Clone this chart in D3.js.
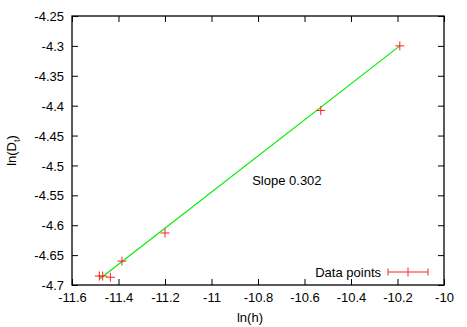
<!DOCTYPE html>
<html>
<head>
<meta charset="utf-8">
<script src="https://cdn.jsdelivr.net/npm/d3@7"></script>
<style>
  body { margin: 0; background: #fff; }
  text { font-family: "Liberation Sans", Arial, sans-serif; font-size: 13px; fill: #000; }
</style>
</head>
<body>
<div id="chart"></div>
<script>
// values
var lnH = [-10.19, -10.53, -11.20, -11.385, -11.482, -11.468, -11.435];
var lnD = [-4.300, -4.408, -4.613, -4.660, -4.685, -4.685, -4.687];
var xTicks = [-11.6, -11.4, -11.2, -11, -10.8, -10.6, -10.4, -10.2, -10];
var yTicks = [-4.25, -4.3, -4.35, -4.4, -4.45, -4.5, -4.55, -4.6, -4.65, -4.7];
var fitSlope = 0.302;
var fitIntercept = -1.2226;
var fitRange = [-11.48, -10.19];

var W = 467, H = 327;
var margin = { top: 16, right: 23, bottom: 42, left: 72 },
    width = W - margin.left - margin.right,
    height = H - margin.top - margin.bottom;

var svg = d3.select("#chart").append("svg")
    .attr("width", W).attr("height", H)
    .append("g")
    .attr("transform", "translate(" + margin.left + "," + margin.top + ")");

var x = d3.scaleLinear().domain([-11.6, -10]).range([0, width]);
var y = d3.scaleLinear().domain([-4.7, -4.25]).range([height, 0]);
var fmt = function (d) { return String(d); };
var tl = 6;

// axes: labels outside, ticks inward on all four sides
var gx = svg.append("g").attr("transform", "translate(0," + height + ")")
    .call(d3.axisBottom(x).tickValues(xTicks).tickFormat(fmt).tickSizeInner(-tl).tickSizeOuter(0).tickPadding(8));
var gy = svg.append("g")
    .call(d3.axisLeft(y).tickValues(yTicks).tickFormat(fmt).tickSizeInner(-tl).tickSizeOuter(0).tickPadding(8));
var gx2 = svg.append("g")
    .call(d3.axisTop(x).tickValues(xTicks).tickFormat("").tickSizeInner(-tl).tickSizeOuter(0));
var gy2 = svg.append("g").attr("transform", "translate(" + width + ",0)")
    .call(d3.axisRight(y).tickValues(yTicks).tickFormat("").tickSizeInner(-tl).tickSizeOuter(0));
[gx, gy, gx2, gy2].forEach(function (g) {
    g.select(".domain").remove();
    g.selectAll("line").attr("stroke", "#000");
    g.selectAll("text").style("font-size", "13px").attr("font-family", null);
});
gy.selectAll("text").attr("dy", "0.35em");

svg.append("rect")
    .attr("width", width).attr("height", height)
    .attr("fill", "none").attr("stroke", "#000").attr("stroke-width", 1.3);

// fit line
var line = d3.line().x(function (d) { return x(d); }).y(function (d) { return y(fitSlope * d + fitIntercept); });
svg.append("path").datum(fitRange)
    .attr("d", line)
    .attr("fill", "none").attr("stroke", "#00ee00").attr("stroke-width", 1.2);

// data points as crosses
var pts = lnH.map(function (h, i) { return { h: h, d: lnD[i] }; });
var cs = 4.5;
var cross = svg.append("g").selectAll("g").data(pts).enter().append("g")
    .attr("transform", function (d) { return "translate(" + x(d.h) + "," + y(d.d) + ")"; })
    .attr("stroke", "#ff2020").attr("stroke-width", 1);
cross.append("line").attr("x1", -cs).attr("x2", cs);
cross.append("line").attr("y1", -cs).attr("y2", cs);

// annotation
svg.append("text").attr("x", x(-10.825)).attr("y", y(-4.5335)).text("Slope 0.302");

// legend
var lg = svg.append("g").attr("transform", "translate(" + (width - 56) + "," + (height - 13) + ")");
lg.append("text").attr("x", -7).attr("y", 4.5).attr("text-anchor", "end").text("Data points");
lg.append("line").attr("x1", 0).attr("x2", 40).attr("stroke", "#ff2020");
lg.append("line").attr("x1", 0).attr("x2", 0).attr("y1", -3.5).attr("y2", 3.5).attr("stroke", "#ff2020");
lg.append("line").attr("x1", 40).attr("x2", 40).attr("y1", -3.5).attr("y2", 3.5).attr("stroke", "#ff2020");
lg.append("line").attr("x1", 20).attr("x2", 20).attr("y1", -cs).attr("y2", cs).attr("stroke", "#ff2020");

// axis titles
svg.append("text").attr("x", width / 2 - 8).attr("y", height + 37).attr("text-anchor", "middle").text("ln(h)");
var yl = svg.append("text").attr("transform", "translate(" + (-56) + "," + (height / 2) + ") rotate(-90)")
    .attr("text-anchor", "middle");
yl.append("tspan").text("ln(D");
yl.append("tspan").attr("dy", 4).style("font-size", "9px").text("t");
yl.append("tspan").attr("dy", -4).text(")");
</script>
</body>
</html>
